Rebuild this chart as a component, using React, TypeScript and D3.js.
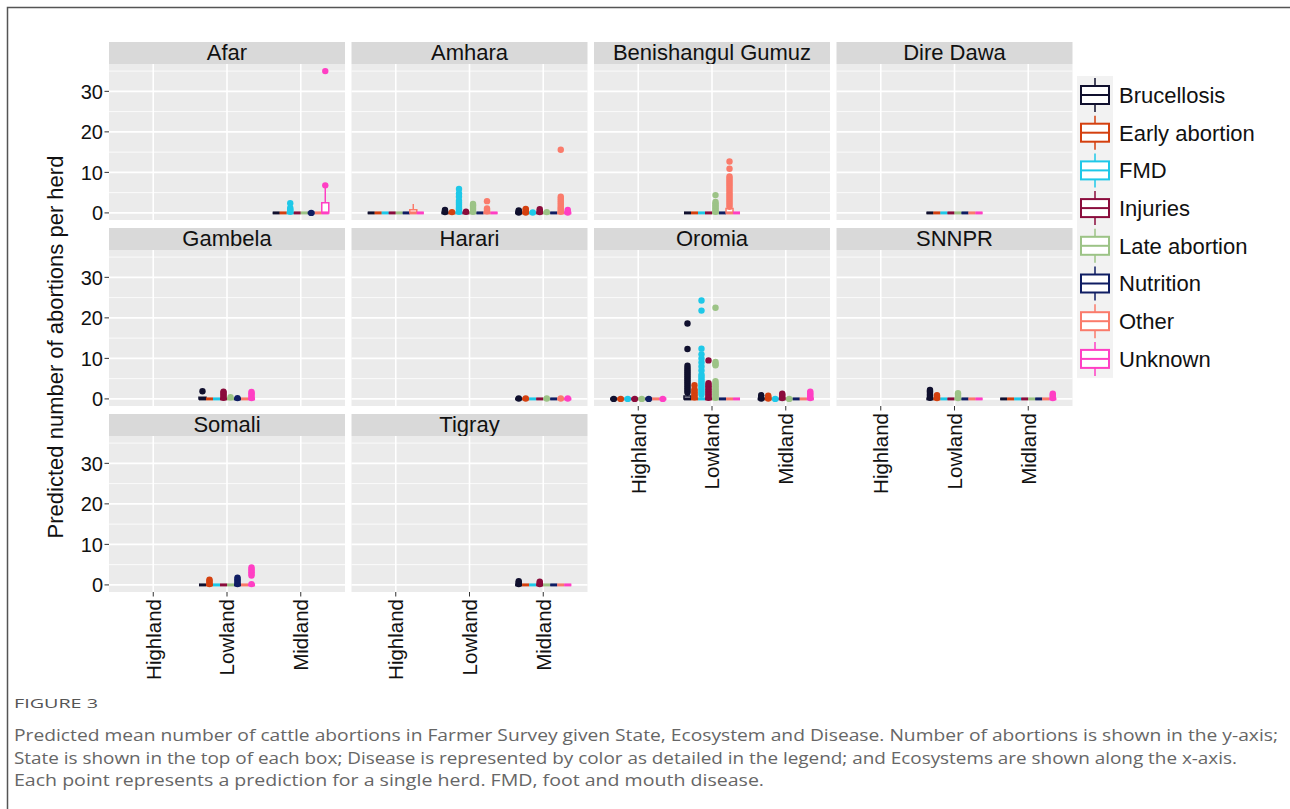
import React, { useEffect, useRef } from 'react';
import * as d3 from 'd3';

const states = ['Afar', 'Amhara', 'Benishangul Gumuz', 'Dire Dawa', 'Gambela', 'Harari', 'Oromia', 'SNNPR', 'Somali', 'Tigray'];
const ecosystems = ['Highland', 'Lowland', 'Midland'];
const diseases = ['Brucellosis', 'Early abortion', 'FMD', 'Injuries', 'Late abortion', 'Nutrition', 'Other', 'Unknown'];
const diseaseColors = ['#10102e', '#d4400f', '#1ec8e8', '#8a0c3c', '#9cc386', '#0f1d63', '#fa7b6b', '#ff3fc4'];
const yTicks = [0, 10, 20, 30];
const yMinor = [5, 15, 25, 35];

// state / ecosystem combinations that have herds
const present: [string, string][] = [
  ['Afar', 'Midland'],
  ['Amhara', 'Highland'], ['Amhara', 'Lowland'], ['Amhara', 'Midland'],
  ['Benishangul Gumuz', 'Lowland'],
  ['Dire Dawa', 'Lowland'],
  ['Gambela', 'Lowland'],
  ['Harari', 'Midland'],
  ['Oromia', 'Highland'], ['Oromia', 'Lowland'], ['Oromia', 'Midland'],
  ['SNNPR', 'Lowland'], ['SNNPR', 'Midland'],
  ['Somali', 'Lowland'],
  ['Tigray', 'Midland'],
];

// boxes that are not flat at zero: [lower whisker, q1, median, q3, upper whisker]
const boxStats: [string, string, string, number[]][] = [
  ['Afar', 'Midland', 'Unknown', [0, 0, 0, 2.5, 6.8]],
  ['Amhara', 'Highland', 'Other', [0, 0, 0, 0.8, 2.2]],
  ['Benishangul Gumuz', 'Lowland', 'Other', [0, 0, 0, 1.1, 1.5]],
  ['Gambela', 'Lowland', 'Brucellosis', [0, 0, 0, 0.4, 0.4]],
  ['Oromia', 'Lowland', 'Brucellosis', [0, 0, 0, 0.7, 1.2]],
];

// predicted values shown as points, one per herd
const herdPoints: [string, string, string, number[]][] = [
  ['Afar', 'Midland', 'FMD', [0.3, 0.6, 0.9, 1.2, 2.4]],
  ['Afar', 'Midland', 'Nutrition', [0]],
  ['Afar', 'Midland', 'Unknown', [6.8, 35]],
  ['Amhara', 'Lowland', 'Brucellosis', [0.2, 0.5, 0.7]],
  ['Amhara', 'Lowland', 'Early abortion', [0.2]],
  ['Amhara', 'Lowland', 'FMD', [0.3, 0.7, 1.1, 1.5, 2, 2.5, 3, 4, 4.8, 5.9]],
  ['Amhara', 'Lowland', 'Injuries', [0.3]],
  ['Amhara', 'Lowland', 'Late abortion', [0.3, 0.7, 1.1, 1.5, 1.9, 2.2]],
  ['Amhara', 'Lowland', 'Other', [0.4, 0.8, 1.1, 2.9]],
  ['Amhara', 'Midland', 'Brucellosis', [0.1, 0.4, 0.6]],
  ['Amhara', 'Midland', 'Early abortion', [0.1, 0.4, 0.8, 1.0]],
  ['Amhara', 'Midland', 'FMD', [0.1]],
  ['Amhara', 'Midland', 'Injuries', [0.2, 0.5, 0.9]],
  ['Amhara', 'Midland', 'Late abortion', [0.2]],
  ['Amhara', 'Midland', 'Other', [0.3, 0.7, 1.1, 1.5, 2, 2.5, 3, 3.5, 4, 15.6]],
  ['Amhara', 'Midland', 'Unknown', [0.1, 0.4, 0.7]],
  ['Benishangul Gumuz', 'Lowland', 'Late abortion', [0.3, 0.7, 1.1, 1.5, 1.9, 2.3, 2.7, 4.4]],
  ['Benishangul Gumuz', 'Lowland', 'Other', [1.5, 2, 2.5, 3, 3.5, 4, 4.5, 5, 5.5, 6, 6.5, 7, 7.5, 8, 8.5, 9, 10.9, 12.7]],
  ['Gambela', 'Lowland', 'Brucellosis', [1.9]],
  ['Gambela', 'Lowland', 'Injuries', [0.3, 0.7, 1.1, 1.5, 1.8]],
  ['Gambela', 'Lowland', 'Late abortion', [0.4]],
  ['Gambela', 'Lowland', 'Nutrition', [0.2]],
  ['Gambela', 'Lowland', 'Unknown', [0.2, 0.6, 1.0, 1.4, 1.7]],
  ['Harari', 'Midland', 'Brucellosis', [0.1]],
  ['Harari', 'Midland', 'Early abortion', [0.1]],
  ['Harari', 'Midland', 'Late abortion', [0.1]],
  ['Harari', 'Midland', 'Other', [0.1]],
  ['Harari', 'Midland', 'Unknown', [0.1]],
  ['Oromia', 'Highland', 'Brucellosis', [0]],
  ['Oromia', 'Highland', 'Early abortion', [0]],
  ['Oromia', 'Highland', 'FMD', [0]],
  ['Oromia', 'Highland', 'Injuries', [0]],
  ['Oromia', 'Highland', 'Late abortion', [0]],
  ['Oromia', 'Highland', 'Nutrition', [0]],
  ['Oromia', 'Highland', 'Unknown', [0]],
  ['Oromia', 'Lowland', 'Brucellosis', [1.6, 2.1, 2.6, 3.1, 3.6, 4.1, 4.6, 5.1, 5.6, 6.1, 6.6, 7.1, 7.6, 8.2, 12.3, 18.6]],
  ['Oromia', 'Lowland', 'Early abortion', [0.4, 0.8, 1.2, 1.6, 2.0, 2.4, 3.4]],
  ['Oromia', 'Lowland', 'FMD', [1.0, 1.5, 2.0, 2.5, 3, 3.5, 4, 4.5, 5, 5.5, 6, 7, 8, 9, 10, 11, 12.4, 21.8, 24.3]],
  ['Oromia', 'Lowland', 'Injuries', [0.3, 0.7, 1.1, 1.5, 1.9, 2.3, 2.7, 3.1, 3.5, 3.9, 9.5]],
  ['Oromia', 'Lowland', 'Late abortion', [0.3, 0.7, 1.1, 1.5, 1.9, 2.3, 2.7, 3.1, 3.5, 3.9, 4.4, 8.3, 8.7, 9.1, 22.5]],
  ['Oromia', 'Midland', 'Brucellosis', [0.1, 0.5, 0.9]],
  ['Oromia', 'Midland', 'Early abortion', [0.1, 0.5, 0.8]],
  ['Oromia', 'Midland', 'FMD', [0]],
  ['Oromia', 'Midland', 'Injuries', [0.2, 0.6, 1.0, 1.3]],
  ['Oromia', 'Midland', 'Late abortion', [0]],
  ['Oromia', 'Midland', 'Unknown', [0.2, 0.6, 1.0, 1.4, 1.8]],
  ['SNNPR', 'Lowland', 'Brucellosis', [0.3, 0.7, 1.1, 1.5, 1.9, 2.2]],
  ['SNNPR', 'Lowland', 'Early abortion', [0.2, 0.6, 0.9]],
  ['SNNPR', 'Lowland', 'Late abortion', [0.2, 0.6, 1.0, 1.4]],
  ['SNNPR', 'Midland', 'Unknown', [0.2, 0.6, 1.0, 1.3]],
  ['Somali', 'Lowland', 'Early abortion', [0.2, 0.6, 1.0, 1.3]],
  ['Somali', 'Lowland', 'Nutrition', [0.2, 0.6, 1.0, 1.4, 1.8]],
  ['Somali', 'Lowland', 'Unknown', [0.2, 2.3, 2.7, 3.1, 3.5, 3.9, 4.3]],
  ['Tigray', 'Midland', 'Brucellosis', [0.2, 0.6, 0.9]],
  ['Tigray', 'Midland', 'Injuries', [0.2, 0.5, 0.8]],
];

const captionTitle = 'FIGURE 3';
const captionLines = [
  'Predicted mean number of cattle abortions in Farmer Survey given State, Ecosystem and Disease. Number of abortions is shown in the y-axis;',
  'State is shown in the top of each box; Disease is represented by color as detailed in the legend; and Ecosystems are shown along the x-axis.',
  'Each point represents a prediction for a single herd. FMD, foot and mouth disease.',
];
const captionWidths = [1264, 1223, 750];

const W = 1290;
const H = 809;
const FONT = '"Liberation Sans", Arial, sans-serif';

const App: React.FC = () => {
  const ref = useRef<SVGSVGElement>(null);

  useEffect(() => {
    if (!ref.current) return;
    document.body.style.margin = '0';
    const svg = d3.select(ref.current);
    svg.selectAll('*').remove();

    svg.append('rect').attr('width', W).attr('height', H).attr('fill', '#fff');
    // frame of the figure box
    svg.append('path').attr('d', `M7.5,${H}V7.5H${W}`).attr('fill', 'none').attr('stroke', '#555').attr('stroke-width', 1.5);

    const nCol = 4;
    const panelX0 = 109;
    const colStep = 242.5;
    const panelW = 236;
    const stripTop0 = 42;
    const rowStep = 186;
    const stripH = 22;
    const panelH = 156;

    const x = d3.scalePoint<string>().domain(ecosystems).range([0, panelW]).padding(0.6);
    const step = x.step();
    const slot = (step * 0.76) / diseases.length;
    const color = d3.scaleOrdinal<string, string>().domain(diseases).range(diseaseColors);

    const nRows = Math.ceil(states.length / nCol);

    states.forEach((state, si) => {
      const col = si % nCol;
      const row = Math.floor(si / nCol);
      const left = panelX0 + col * colStep;
      const stripTop = stripTop0 + row * rowStep;
      const top = stripTop + stripH;
      const y = d3.scaleLinear().domain([-1.75, 36.75]).range([top + panelH, top]);
      const g = svg.append('g').attr('transform', `translate(${left},0)`);

      // strip
      g.append('rect').attr('x', 0).attr('y', stripTop).attr('width', panelW).attr('height', stripH).attr('fill', '#d9d9d9');
      g.append('text')
        .attr('x', panelW / 2).attr('y', stripTop + stripH / 2 + 6.5)
        .attr('text-anchor', 'middle')
        .style('font-family', FONT).style('font-size', '22px').attr('fill', '#111')
        .text(state);

      // panel bg and grid
      g.append('rect').attr('x', 0).attr('y', top).attr('width', panelW).attr('height', panelH).attr('fill', '#ebebeb');
      yMinor.forEach(v => {
        g.append('line').attr('x1', 0).attr('x2', panelW).attr('y1', y(v)).attr('y2', y(v))
          .attr('stroke', '#fff').attr('stroke-width', 0.8);
      });
      yTicks.forEach(v => {
        g.append('line').attr('x1', 0).attr('x2', panelW).attr('y1', y(v)).attr('y2', y(v))
          .attr('stroke', '#fff').attr('stroke-width', 1.6);
      });
      ecosystems.forEach(e => {
        g.append('line').attr('x1', x(e)!).attr('x2', x(e)!).attr('y1', top).attr('y2', top + panelH)
          .attr('stroke', '#fff').attr('stroke-width', 1.6);
      });

      // y axis on first column
      if (col === 0) {
        yTicks.forEach(v => {
          g.append('line').attr('x1', -4.5).attr('x2', 0).attr('y1', y(v)).attr('y2', y(v))
            .attr('stroke', '#333').attr('stroke-width', 1);
          g.append('text')
            .attr('x', -6).attr('y', y(v)).attr('dy', '0.36em')
            .attr('text-anchor', 'end')
            .style('font-family', FONT).style('font-size', '20px').attr('fill', '#111')
            .text(v);
        });
      }

      // x axis when nothing sits below this panel
      if (si + nCol >= states.length || row === nRows - 1) {
        const bottom = top + panelH;
        ecosystems.forEach(e => {
          g.append('line').attr('x1', x(e)!).attr('x2', x(e)!).attr('y1', bottom).attr('y2', bottom + 4.5)
            .attr('stroke', '#333').attr('stroke-width', 1);
          g.append('text')
            .attr('transform', `translate(${x(e)},${bottom + 7}) rotate(-90)`)
            .attr('dy', '0.36em')
            .attr('text-anchor', 'end')
            .style('font-family', FONT).style('font-size', '20.5px').attr('fill', '#111')
            .text(e);
        });
      }

      const cx = (e: string, d: string) => x(e)! + (diseases.indexOf(d) - (diseases.length - 1) / 2) * slot;

      // boxes
      present.filter(p => p[0] === state).forEach(([, eco]) => {
        diseases.forEach(d => {
          const found = boxStats.find(b => b[0] === state && b[1] === eco && b[2] === d);
          const [lo, q1, med, q3, hi] = found ? found[3] : [0, 0, 0, 0, 0];
          const c = cx(eco, d);
          const hw = slot / 2;
          const col = color(d);
          if (hi > q3) {
            g.append('line').attr('x1', c).attr('x2', c).attr('y1', y(q3)).attr('y2', y(hi))
              .attr('stroke', col).attr('stroke-width', 1.5);
          }
          if (lo < q1) {
            g.append('line').attr('x1', c).attr('x2', c).attr('y1', y(q1)).attr('y2', y(lo))
              .attr('stroke', col).attr('stroke-width', 1.5);
          }
          g.append('path')
            .attr('d', `M${c - hw},${y(q1)}H${c + hw}V${y(q3)}H${c - hw}Z`)
            .attr('fill', '#fff').attr('stroke', col).attr('stroke-width', 1.5);
          g.append('line').attr('x1', c - hw).attr('x2', c + hw).attr('y1', y(med)).attr('y2', y(med))
            .attr('stroke', col).attr('stroke-width', 3);
        });
      });

      // points
      herdPoints.filter(p => p[0] === state).forEach(([, eco, d, vals]) => {
        vals.forEach(v => {
          g.append('circle')
            .attr('cx', cx(eco, d)).attr('cy', y(v)).attr('r', 3.2)
            .attr('fill', color(d));
        });
      });
    });

    // y title
    svg.append('text')
      .attr('transform', `translate(63,347) rotate(-90)`)
      .attr('text-anchor', 'middle')
      .style('font-family', FONT).style('font-size', '22px').attr('fill', '#111')
      .text('Predicted number of abortions per herd');

    // legend
    const legY0 = 95;
    const legStep = 37.7;
    svg.append('rect').attr('x', 1077).attr('y', legY0 - 19).attr('width', 36)
      .attr('height', legStep * (diseases.length - 1) + 38).attr('fill', '#f2f2f2');
    diseases.forEach((d, i) => {
      const cy = legY0 + i * legStep;
      const col = color(d);
      const lg = svg.append('g');
      lg.append('line').attr('x1', 1095).attr('x2', 1095).attr('y1', cy - 17).attr('y2', cy + 17)
        .attr('stroke', col).attr('stroke-width', 1.5);
      lg.append('rect').attr('x', 1081).attr('y', cy - 9).attr('width', 28).attr('height', 18)
        .attr('fill', '#fff').attr('stroke', col).attr('stroke-width', 2);
      lg.append('line').attr('x1', 1081).attr('x2', 1109).attr('y1', cy).attr('y2', cy)
        .attr('stroke', col).attr('stroke-width', 2);
      lg.append('text')
        .attr('x', 1119).attr('y', cy).attr('dy', '0.36em')
        .style('font-family', FONT).style('font-size', '22px').attr('fill', '#111')
        .text(d);
    });

    // caption
    svg.append('text')
      .attr('x', 14).attr('y', 708)
      .attr('textLength', 84).attr('lengthAdjust', 'spacingAndGlyphs')
      .style('font-family', '"Open Sans", sans-serif').style('font-size', '13px').attr('fill', '#555')
      .text(captionTitle);
    captionLines.forEach((line, i) => {
      svg.append('text')
        .attr('x', 14).attr('y', 741 + i * 22.5)
        .attr('textLength', captionWidths[i]).attr('lengthAdjust', 'spacingAndGlyphs')
        .style('font-family', '"Open Sans", sans-serif').style('font-size', '17px').attr('fill', '#666')
        .text(line);
    });
  }, []);

  return <svg ref={ref} width={W} height={H} style={{ display: 'block' }} />;
};

export default App;
